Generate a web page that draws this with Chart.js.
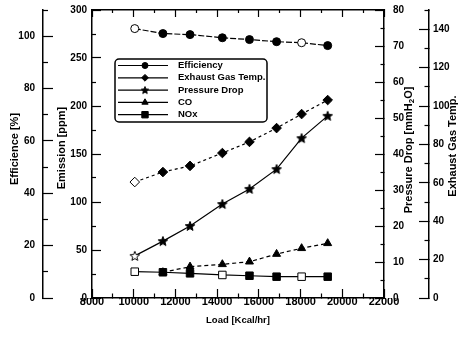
<!DOCTYPE html>
<html>
<head>
<meta charset="utf-8">
<script src="https://cdn.jsdelivr.net/npm/chart.js@4.4.1/dist/chart.umd.min.js"></script>
<style>
  html, body { margin: 0; padding: 0; background: #fff; }
  #wrap { position: relative; width: 465px; height: 342px; }
</style>
</head>
<body>
<div id="wrap"><canvas id="chart" width="465" height="342"></canvas></div>
<script>
// Burner load test: efficiency, exhaust temperature, pressure drop and emissions
const loads        = [10050, 11400, 12700, 14250, 15550, 16850, 18050, 19300];
const efficiency   = [102.9, 101.0, 100.6, 99.4, 98.7, 97.9, 97.5, 96.4];
const exhaustTemp  = [60.4, 65.6, 68.8, 75.5, 81.3, 88.5, 95.8, 103.1];
const pressureDrop = [11.7, 15.8, 20.0, 26.1, 30.3, 35.8, 44.4, 50.6];
const coPpm        = [null, 26.8, 32.6, 35.1, 37.8, 45.8, 51.8, 57.0];
const noxPpm       = [27.4, 26.8, 25.7, 24.0, 23.2, 22.2, 22.2, 22.2];

// labelled tick values on each axis
const loadTickLabels     = [8000, 10000, 12000, 14000, 16000, 18000, 20000, 22000];
const effTickLabels      = [0, 20, 40, 60, 80, 100];
const emissionTickLabels = [0, 50, 100, 150, 200, 250, 300];
const pressureTickLabels = [0, 10, 20, 30, 40, 50, 60, 70, 80];
const tempTickLabels     = [0, 20, 40, 60, 80, 100, 120, 140];

const seriesNames = ['Efficiency', 'Exhaust Gas Temp.', 'Pressure Drop', 'CO', 'NOx'];

const FONT = 'Liberation Sans, Arial, Helvetica, sans-serif';
const INK = '#000';

function toPoints(ys) { return loads.map((x, i) => ({ x: x, y: ys[i] })); }

// five-pointed star marker as a canvas point style
function makeStar(fill, outer, inner) {
  const size = Math.ceil(outer * 2 + 2);
  const c = document.createElement('canvas');
  c.width = size; c.height = size;
  const g = c.getContext('2d');
  const cx = size / 2, cy = size / 2 + outer * 0.08;
  g.beginPath();
  for (let i = 0; i < 10; i++) {
    const r = i % 2 === 0 ? outer : inner;
    const a = -Math.PI / 2 + i * Math.PI / 5;
    const px = cx + r * Math.cos(a), py = cy + r * Math.sin(a);
    if (i === 0) g.moveTo(px, py); else g.lineTo(px, py);
  }
  g.closePath();
  g.fillStyle = fill; g.fill();
  g.lineWidth = 1; g.strokeStyle = INK; g.stroke();
  return c;
}
const starFilled = makeStar(INK, 5, 2.2);
const starOpen = makeStar('#fff', 5, 2.2);
const starSmall = makeStar(INK, 3.8, 1.7);

function fills(n, openIdx) {
  return Array.from({ length: n }, (_, i) => openIdx.includes(i) ? '#fff' : INK);
}

// tick helpers: labelled ticks are long, the others short
function labelCb(list) { return v => list.includes(v) ? String(v) : ''; }
function minorDash(list, minorLen, offset) {
  return {
    tickBorderDash: ctx => (ctx.tick && list.includes(ctx.tick.value)) ? [] : [minorLen, 200],
    tickBorderDashOffset: ctx => (ctx.tick && list.includes(ctx.tick.value)) ? 0 : offset
  };
}
const tickFont = { family: FONT, size: 10, weight: 'bold' };

// the label padding only shifts labels here; keep it out of the layout
function clearPadding(s) { s.paddingTop = 0; s.paddingBottom = 0; s.paddingLeft = 0; s.paddingRight = 0; }

function yScale(pos, weight, width, min, max, step, labels, tl, minorLen, pad, dashOffset) {
  return {
    type: 'linear', position: pos, weight: weight, min: min, max: max,
    border: { display: true, color: INK, width: 1.5 },
    grid: Object.assign({ drawOnChartArea: false, drawTicks: true, tickLength: tl, tickWidth: 1.2, tickColor: INK },
                        minorDash(labels, minorLen, dashOffset)),
    ticks: { stepSize: step, autoSkip: false, callback: labelCb(labels), color: INK, font: tickFont, padding: pad },
    afterFit: s => { s.width = width; clearPadding(s); }
  };
}

const scales = {
  x: {
    type: 'linear', position: 'bottom', min: 8000, max: 22000,
    border: { display: true, color: INK, width: 1.5 },
    grid: Object.assign({ drawOnChartArea: false, tickLength: -9, tickWidth: 1.2, tickColor: INK },
                        minorDash(loadTickLabels, 5, 0)),
    ticks: { stepSize: 1000, autoSkip: false, maxRotation: 0, callback: labelCb(loadTickLabels),
             color: INK, font: { family: FONT, size: 11, weight: 'bold' }, padding: 6 },
    title: { display: true, text: 'Load [Kcal/hr]', color: INK,
             font: { family: FONT, size: 9.5, weight: 'bold' }, padding: { top: 0, bottom: 16 } },
    afterFit: s => { s.height = 44; clearPadding(s); }
  },
  xTop: {
    type: 'linear', position: 'top', min: 8000, max: 22000,
    border: { display: true, color: INK, width: 1.5 },
    grid: Object.assign({ drawOnChartArea: false, tickLength: -7, tickWidth: 1.2, tickColor: INK },
                        minorDash(loadTickLabels, 3, -4)),
    ticks: { stepSize: 1000, autoSkip: false, display: false },
    afterFit: s => { s.height = 10; clearPadding(s); }
  },
  yEff:   yScale('left', 2, 43, 0, 110, 10, effTickLabels, -10, 5, 18, -5),
  yEm:    yScale('left', 1, 49, 0, 300, 25, emissionTickLabels, -9, 4, 14, -5),
  yPress: yScale('right', 1, 45, 0, 80, 5, pressureTickLabels, -9, 4, 18, 0),
  yTemp:  yScale('right', 2, 36, 0, 150, 10, tempTickLabels, -10, 5, 14, 0)
};

const datasets = [
  { label: seriesNames[0], data: toPoints(efficiency), yAxisID: 'yEff',
    borderDash: [6, 2], pointStyle: 'circle', pointRadius: 4,
    pointBackgroundColor: fills(8, [0, 6]) },
  { label: seriesNames[1], data: toPoints(exhaustTemp), yAxisID: 'yTemp',
    borderDash: [3, 3], pointStyle: 'rectRot', pointRadius: 4.8,
    pointBackgroundColor: fills(8, [0]) },
  { label: seriesNames[2], data: toPoints(pressureDrop), yAxisID: 'yPress',
    pointStyle: loads.map((_, i) => i === 0 ? starOpen : starFilled), pointRadius: 5 },
  { label: seriesNames[3], data: toPoints(coPpm), yAxisID: 'yEm',
    borderDash: [4, 3], pointStyle: 'triangle', pointRadius: 4.6,
    pointBackgroundColor: fills(8, []) },
  { label: seriesNames[4], data: toPoints(noxPpm), yAxisID: 'yEm',
    pointStyle: 'rect', pointRadius: 5.3,
    pointBackgroundColor: fills(8, [0, 3, 6]) }
].map(d => Object.assign({
  borderColor: INK, borderWidth: 1.2, pointBorderColor: INK, pointBorderWidth: 1,
  tension: 0, spanGaps: false, fill: false
}, d));

// legend marker shapes
function drawMark(ctx, kind, x, y, r, fill) {
  ctx.save();
  ctx.fillStyle = fill; ctx.strokeStyle = INK; ctx.lineWidth = 1;
  ctx.beginPath();
  if (kind === 'circle') {
    ctx.arc(x, y, r, 0, Math.PI * 2);
  } else if (kind === 'diamond') {
    ctx.moveTo(x, y - r); ctx.lineTo(x + r, y); ctx.lineTo(x, y + r); ctx.lineTo(x - r, y);
  } else if (kind === 'triangle') {
    ctx.moveTo(x, y - r); ctx.lineTo(x + r * 0.87, y + r * 0.5); ctx.lineTo(x - r * 0.87, y + r * 0.5);
  } else if (kind === 'rect') {
    ctx.rect(x - r, y - r, 2 * r, 2 * r);
  }
  ctx.closePath(); ctx.fill(); ctx.stroke();
  ctx.restore();
}

const legendPlugin = {
  id: 'insetLegend',
  afterDraw(chart) {
    const ctx = chart.ctx;
    const a = chart.chartArea;
    const bx = a.left + 23, by = a.top + 49, bw = 152, bh = 63, rr = 4;
    ctx.save();
    ctx.beginPath();
    ctx.moveTo(bx + rr, by);
    ctx.arcTo(bx + bw, by, bx + bw, by + bh, rr);
    ctx.arcTo(bx + bw, by + bh, bx, by + bh, rr);
    ctx.arcTo(bx, by + bh, bx, by, rr);
    ctx.arcTo(bx, by, bx + bw, by, rr);
    ctx.closePath();
    ctx.fillStyle = '#fff'; ctx.fill();
    ctx.lineWidth = 1.5; ctx.strokeStyle = INK; ctx.stroke();

    const kinds = ['circle', 'diamond', 'star', 'triangle', 'rect'];
    const sizes = [3, 3.4, 0, 3.6, 3.2];
    ctx.font = 'bold 9.5px ' + FONT;
    ctx.textBaseline = 'middle'; ctx.textAlign = 'left';
    seriesNames.forEach((name, i) => {
      const y = by + 6.5 + i * 12.3;
      ctx.beginPath();
      ctx.moveTo(bx + 3, y); ctx.lineTo(bx + 53, y);
      ctx.lineWidth = 1.2; ctx.strokeStyle = INK; ctx.stroke();
      const mx = bx + 30;
      if (kinds[i] === 'star') {
        ctx.drawImage(starSmall, mx - starSmall.width / 2, y - starSmall.height / 2);
      } else {
        drawMark(ctx, kinds[i], mx, y, sizes[i], INK);
      }
      ctx.fillStyle = INK;
      ctx.fillText(name, bx + 63, y);
    });
    ctx.restore();
  }
};

// vertical axis titles, all reading bottom to top
function drawVTitle(ctx, parts, cx, cy, size) {
  const font = 'bold ' + size + 'px ' + FONT;
  const subFont = 'bold ' + Math.round(size * 0.7) + 'px ' + FONT;
  ctx.save();
  ctx.translate(cx, cy);
  ctx.rotate(-Math.PI / 2);
  ctx.textBaseline = 'middle'; ctx.textAlign = 'left'; ctx.fillStyle = INK;
  let total = 0;
  parts.forEach(p => { ctx.font = p.sub ? subFont : font; p.w = ctx.measureText(p.t).width; total += p.w; });
  let x = -total / 2;
  parts.forEach(p => { ctx.font = p.sub ? subFont : font; ctx.fillText(p.t, x, p.sub ? 3 : 0); x += p.w; });
  ctx.restore();
}

const axisTitlePlugin = {
  id: 'axisTitles',
  afterDraw(chart) {
    const ctx = chart.ctx, s = chart.scales;
    const mid = (chart.chartArea.top + chart.chartArea.bottom) / 2;
    drawVTitle(ctx, [{ t: 'Efficience [%]' }], s.yEff.left + 15, mid - 5, 11);
    drawVTitle(ctx, [{ t: 'Emission [ppm]' }], s.yEm.left + 19, mid - 6, 11);
    drawVTitle(ctx, [{ t: 'Pressure Drop [mmH' }, { t: '2', sub: true }, { t: 'O]' }],
               s.yPress.left + 25, mid - 4, 11);
    drawVTitle(ctx, [{ t: 'Exhaust Gas Temp.' }], s.yTemp.left + 24, mid - 8, 11);
  }
};

new Chart(document.getElementById('chart'), {
  type: 'line',
  data: { datasets: datasets },
  options: {
    responsive: false,
    animation: false,
    devicePixelRatio: 1,
    layout: { padding: 0 },
    plugins: { legend: { display: false }, tooltip: { enabled: false } },
    scales: scales
  },
  plugins: [legendPlugin, axisTitlePlugin]
});
</script>
</body>
</html>
